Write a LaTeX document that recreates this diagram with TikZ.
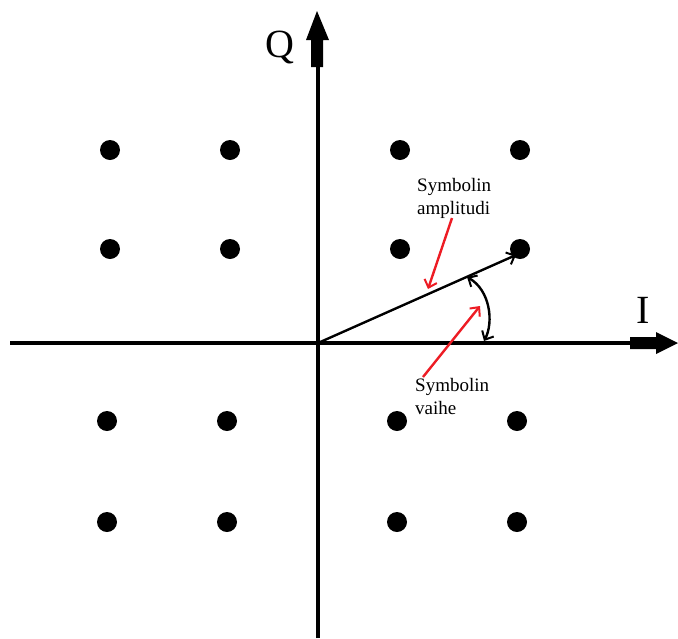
\documentclass[tikz,border=0pt]{standalone}
\usepackage{fontspec}
\setmainfont{Liberation Serif}
\usetikzlibrary{arrows.meta}
\definecolor{mred}{RGB}{237,28,36}
\begin{document}
\begin{tikzpicture}[x=1pt,y=-1pt,
  dot/.style={circle,fill=black,inner sep=0pt,minimum size=20pt},
  axisline/.style={line width=4pt},
  axishead/.style={fill=black},
  vecline/.style={line width=2.4pt,-{Straight Barb[length=7pt,width=13pt,line width=2pt]}},
  angline/.style={line width=2.4pt,{Straight Barb[length=7pt,width=13pt,line width=2pt]}-{Straight Barb[length=7pt,width=13pt,line width=2pt]}},
  redarrow/.style={mred,line width=2.4pt,-{Straight Barb[length=7pt,width=13pt,line width=2pt]}},
  lbl/.style={font=\fontsize{19}{23}\selectfont,align=left,anchor=north west,inner sep=0pt},
  axlbl/.style={font=\fontsize{40}{42}\selectfont,inner sep=0pt}]
\useasboundingbox (0,0) rectangle (678,638);
% axes
\coordinate (xl) at (10,343);
\coordinate (xr) at (634,343);
\coordinate (yb) at (318,638);
\coordinate (yt) at (318,64);
\coordinate (O) at (318,343);
\draw[axisline] (xl) -- (xr);
\draw[axisline] (yb) -- (yt);
\fill[axishead] (630,337) -- (656,337) -- (656,332) -- (678,343) -- (656,354) -- (656,349) -- (630,349) -- cycle;
\fill[axishead] (311,67) -- (311,40) -- (306,40) -- (317,11) -- (329,40) -- (323,40) -- (323,67) -- cycle;
\node[axlbl] (Q) at (280,47) {Q};
\node[axlbl] (I) at (643,310) {I};
% dots
\foreach \n/\x/\y in {a/110/150,b/230/150,c/400/150,d/520/150,
                      e/110/249,f/230/249,g/400/249,h/520/249,
                      i/107/421,j/227/421,k/397/421,l/517/421,
                      m/107/522,n/227/522,o/397/522,p/517/522}
  \node[dot] (\n) at (\x,\y) {};
% amplitude vector
\coordinate (V) at (516,255);
\draw[vecline] (O) -- (V);
% phase angle arc
\coordinate (A1) at (467,277);
\coordinate (A2) at (484,341);
\draw[angline] (A1) .. controls (490,290) and (494,322) .. (A2);
% labels
\node[lbl] (amp) at (417,178) {Symbolin\\amplitudi};
\node[lbl] (ph) at (415,378) {Symbolin\\vaihe};
\coordinate (r1s) at (452,218);
\coordinate (r1e) at (428,289);
\coordinate (r2s) at (423,377);
\coordinate (r2e) at (480,306);
\draw[redarrow] (r1s) -- (r1e);
\draw[redarrow] (r2s) -- (r2e);
\end{tikzpicture}
\end{document}
